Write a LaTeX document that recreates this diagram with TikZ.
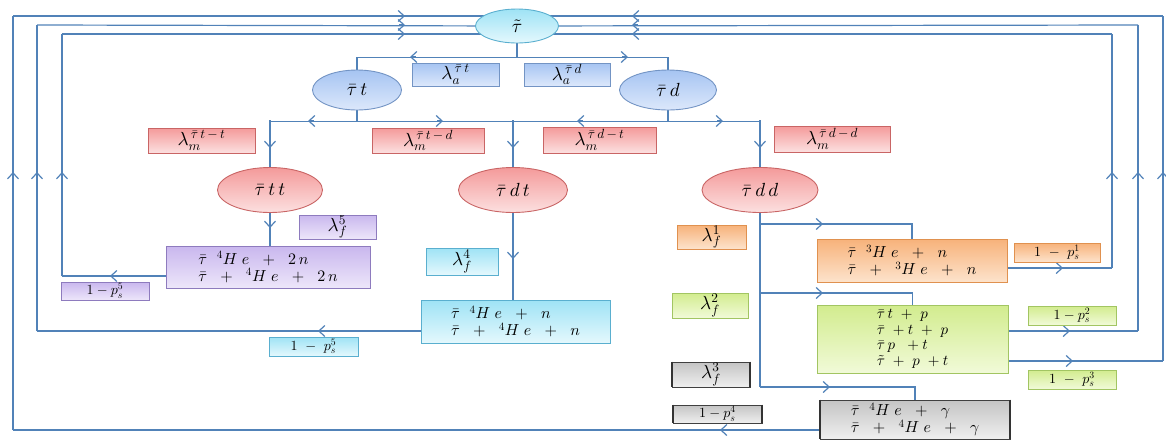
\documentclass[tikz,border=0pt]{standalone}
\DeclareFontShape{OML}{cmm}{m}{it}{<->cmmi10}{}
\DeclareFontShape{OMS}{cmsy}{m}{n}{<->cmsy10}{}
\DeclareFontShape{OT1}{cmr}{m}{n}{<->cmr10}{}
\usetikzlibrary{shapes.geometric,arrows.meta,backgrounds}
\definecolor{lineblue}{HTML}{5182B8}
\definecolor{cyanT}{HTML}{9FE3F5}\definecolor{cyanB}{HTML}{E4F8FD}\definecolor{cyanD}{HTML}{5AAFCF}
\definecolor{bluT}{HTML}{A6C4F2}\definecolor{bluB}{HTML}{DCE8FB}\definecolor{bluD}{HTML}{7394C4}
\definecolor{redT}{HTML}{F49A9A}\definecolor{redB}{HTML}{FCE0E0}\definecolor{redD}{HTML}{C96565}
\definecolor{purT}{HTML}{C9B7EE}\definecolor{purB}{HTML}{EDE6FA}\definecolor{purD}{HTML}{8E7BBE}
\definecolor{oraT}{HTML}{F7B27A}\definecolor{oraB}{HTML}{FDE3CC}\definecolor{oraD}{HTML}{E0914F}
\definecolor{grnT}{HTML}{D2EC8E}\definecolor{grnB}{HTML}{F1FAD8}\definecolor{grnD}{HTML}{A2C562}
\definecolor{gryT}{HTML}{C4C4C4}\definecolor{gryB}{HTML}{EFEFEF}
\begin{document}
\begin{tikzpicture}[x=1pt,y=-1pt,
  conn/.style={draw=lineblue,line width=1.2pt},
  trunk/.style={draw=lineblue,line width=2.2pt},
  tip/.style={draw=lineblue,line width=1.2pt,-{Straight Barb[length=6pt,width=11pt]}},
  ell/.style={ellipse,draw,line width=0.9pt,inner sep=0pt,minimum height=#1,font=\fontsize{19}{22}\selectfont},
  boxb/.style={rectangle,draw,line width=0.9pt,inner sep=0pt,font=\fontsize{19}{22}\selectfont},
  cyanell/.style={ell=34pt,draw=cyanD,top color=cyanT,bottom color=cyanB},
  bluell/.style={ell=40pt,draw=bluD,top color=bluT,bottom color=bluB},
  redell/.style={ell=45pt,draw=redD,top color=redT,bottom color=redB},
  blubox/.style={boxb,draw=bluD,top color=bluT,bottom color=bluB},
  redbox/.style={boxb,draw=redD,top color=redT,bottom color=redB},
  purbox/.style={boxb,draw=purD,top color=purT,bottom color=purB},
  cyabox/.style={boxb,draw=cyanD,top color=cyanT,bottom color=cyanB},
  orabox/.style={boxb,draw=oraD,top color=oraT,bottom color=oraB},
  grnbox/.style={boxb,draw=grnD,top color=grnT,bottom color=grnB},
  grybox/.style={boxb,draw=black!75,top color=gryT,bottom color=gryB},
  smallt/.style={font=\fontsize{14}{16}\selectfont},
  multi/.style={align=left,font=\fontsize{16}{17}\selectfont}
]
\useasboundingbox (0,0) rectangle (1166,440);
% ellipses
\node[cyanell,minimum width=83pt] (tau) at (517,26) {$\tilde\tau$};
\node[bluell,minimum width=89pt] (taut) at (357,90) {$\bar\tau\, t$};
\node[bluell,minimum width=97pt] (taud) at (668,90) {$\bar\tau\, d$};
\node[redell,minimum width=105pt] (tautt) at (270,190) {$\bar\tau\, t\,t$};
\node[redell,minimum width=109pt] (taudt) at (513,190) {$\bar\tau\, d\,t$};
\node[redell,minimum width=116pt] (taudd) at (760,190) {$\bar\tau\, d\,d$};
% rate boxes
\node[blubox,minimum width=87pt,minimum height=23pt] (la1) at (455.5,74.5) {$\lambda_a^{\,\bar\tau\, t}$};
\node[blubox,minimum width=86pt,minimum height=23pt] (la2) at (567,74.5) {$\lambda_a^{\,\bar\tau\, d}$};
\node[redbox,minimum width=107pt,minimum height=25pt] (lm1) at (201.5,140.5) {$\lambda_m^{\,\bar\tau\, t\,-\,t}$};
\node[redbox,minimum width=112pt,minimum height=25pt] (lm2) at (428,140.5) {$\lambda_m^{\,\bar\tau\, t\,-\,d}$};
\node[redbox,minimum width=113pt,minimum height=26pt] (lm3) at (599.5,140) {$\lambda_m^{\,\bar\tau\, d\,-\,t}$};
\node[redbox,minimum width=116pt,minimum height=26pt] (lm4) at (832,139) {$\lambda_m^{\,\bar\tau\, d\,-\,d}$};
\node[purbox,minimum width=77pt,minimum height=24pt] (lf5) at (337.5,227) {$\lambda_f^{5}$};
\node[purbox,smallt,minimum width=88pt,minimum height=18pt] (ps5a) at (105,291) {$1-p_s^{5}$};
\node[cyabox,minimum width=72pt,minimum height=27pt] (lf4) at (462,261.5) {$\lambda_f^{4}$};
\node[cyabox,smallt,minimum width=89pt,minimum height=19pt] (ps5b) at (313.5,346.5) {$1\ -\ p_s^{5}$};
\node[orabox,minimum width=69pt,minimum height=24pt] (lf1) at (711.5,237) {$\lambda_f^{1}$};
\node[orabox,smallt,minimum width=86pt,minimum height=19pt] (ps1) at (1057,252.5) {$1\ -\ p_s^{1}$};
\node[grnbox,minimum width=76pt,minimum height=25pt] (lf2) at (710,305.5) {$\lambda_f^{2}$};
\node[grnbox,smallt,minimum width=88pt,minimum height=19pt] (ps2) at (1072,315.5) {$1-p_s^{2}$};
\node[grnbox,smallt,minimum width=88pt,minimum height=19pt] (ps3) at (1072,379.5) {$1\ -\ p_s^{3}$};
\node[grybox,minimum width=78pt,minimum height=25pt] (lf3) at (711,374.5) {$\lambda_f^{3}$};
\node[grybox,smallt,minimum width=89pt,minimum height=18pt] (ps4) at (717.5,414) {$1-p_s^{4}$};
% product boxes
\node[purbox,multi,minimum width=204pt,minimum height=42pt] (pbox) at (268,267)
  {$\bar\tau\ \ {}^4H\;e\ \ +\ \ 2\,n$\\ $\bar\tau\ \ +\ \ {}^4H\;e\ \ +\ \ 2\,n$};
\node[cyabox,multi,minimum width=189pt,minimum height=43pt] (cbox) at (515.5,321.5)
  {$\bar\tau\ \ {}^4H\;e\ \ +\ \ n$\\ $\bar\tau\ \ +\ \ {}^4H\;e\ \ +\ \ n$};
\node[orabox,multi,minimum width=190pt,minimum height=43pt] (obox) at (912,260.5)
  {$\bar\tau\ \ {}^3H\;e\ \ +\ \ n$\\ $\bar\tau\ \ +\ \ {}^3H\;e\ \ +\ \ n$};
\node[grnbox,multi,font=\fontsize{15}{15.5}\selectfont,minimum width=191pt,minimum height=68pt] (gbox) at (912.5,339)
  {$\bar\tau\, t\ +\ p$\\ $\bar\tau\ +t\ +\ p$\\ $\bar\tau\, p\ \ +t$\\ $\tilde\tau\ +\ p\ +t$};
\node[grybox,multi,minimum width=190pt,minimum height=39pt] (grbox) at (915,419.5)
  {$\bar\tau\ \ {}^4H\;e\ \ +\ \ \gamma$\\ $\bar\tau\ \ +\ \ {}^4H\;e\ \ +\ \ \gamma$};
% thick dark sides of grey boxes
\foreach \b in {lf3,ps4,grbox}{
  \draw[black!80,line width=2pt] (\b.north west) -- (\b.south west);
  \draw[black!80,line width=2pt] (\b.north east) -- (\b.south east);
}
\begin{pgfonlayer}{background}
% tree from tau
\draw[conn] (tau.south) -- ++(0,14) coordinate (j0);
\draw[conn] (j0) -| (taut.north);
\draw[conn] (j0) -| (taud.north);
\draw[tip] (416,57) -- (410,57);
\draw[tip] (622,57) -- (628,57);
% from taut and taud
\draw[conn] (taut.south) -- ++(0,11) coordinate (j1);
\draw[conn] (taud.south) -- ++(0,11) coordinate (j2);
\draw[conn] (j1) -| (tautt.north);
\draw[conn] (j1) -| (taudt.north);
\draw[conn] (j2) -| (taudt.north);
\draw[conn] (j2) -| (taudd.north);
\draw[trunk] (tautt.north) -- ++(0,-47);
\draw[trunk] (taudt.north) -- ++(0,-47);
\draw[trunk] (taudd.north) -- ++(0,-47);
\draw[tip] (314,121) -- (308,121);
\draw[tip] (437,121) -- (443,121);
\draw[tip] (583,121) -- (577,121);
\draw[tip] (717,121) -- (723,121);
\draw[tip] (270,140) -- (270,148);
\draw[tip] (513,140) -- (513,148);
\draw[tip] (760,140) -- (760,148);
% to products
\draw[trunk] (tautt.south) -- (pbox.north -| tautt.south);
\draw[tip] (270,220) -- (270,228);
\draw[trunk] (taudt.south) -- (cbox.north -| taudt.south);
\draw[tip] (513,251) -- (513,259);
\draw[trunk] (taudd.south) -- (760,387) coordinate (j5);
\draw[conn] (760,224) -| (obox.north);
\draw[conn] (760,293) -| (gbox.north);
\draw[conn] (j5) -| (grbox.north);
\draw[tip] (817,224) -- (823,224);
\draw[tip] (817,293) -- (823,293);
\draw[tip] (824,387) -- (830,387);
% left loops
\draw[conn] (pbox.west |- 0,276) -- (62,276);
\draw[trunk] (62,276) -- (62,34);
\draw[conn] (62,34) -- (tau.center |- 0,34);
\draw[conn] (cbox.west |- 0,331) -- (37,331);
\draw[trunk] (37,331) -- (37,25);
\draw[conn] (37,25) -- (tau.center);
\draw[conn] (grbox.west |- 0,430) -- (13,430);
\draw[trunk] (13,430) -- (13,16);
\draw[conn] (13,16) -- (tau.center |- 0,16);
\draw[tip] (116,276) -- (110,276);
\draw[tip] (324,331) -- (318,331);
\draw[tip] (726,430) -- (720,430);
\foreach \x in {13,37,62} {\draw[tip] (\x,180) -- (\x,172);}
\foreach \y in {16,25,34} {\draw[tip] (399,\y) -- (405,\y);}
% right loops
\draw[conn] (obox.east |- 0,268) -- (1112,268);
\draw[trunk] (1112,268) -- (1112,34);
\draw[conn] (1112,34) -- (tau.center |- 0,34);
\draw[conn] (gbox.east |- 0,331) -- (1138,331);
\draw[trunk] (1138,331) -- (1138,25);
\draw[conn] (1138,25) -- (tau.center);
\draw[conn] (gbox.east |- 0,361) -- (1163,361);
\draw[trunk] (1163,361) -- (1163,16);
\draw[conn] (1163,16) -- (tau.center |- 0,16);
\draw[tip] (1057,268) -- (1063,268);
\draw[tip] (1064,331) -- (1070,331);
\draw[tip] (1067,361) -- (1073,361);
\foreach \x in {1112,1138,1163} {\draw[tip] (\x,180) -- (\x,172);}
\foreach \y in {16,25,34} {\draw[tip] (638,\y) -- (632,\y);}
\end{pgfonlayer}
\end{tikzpicture}
\end{document}
